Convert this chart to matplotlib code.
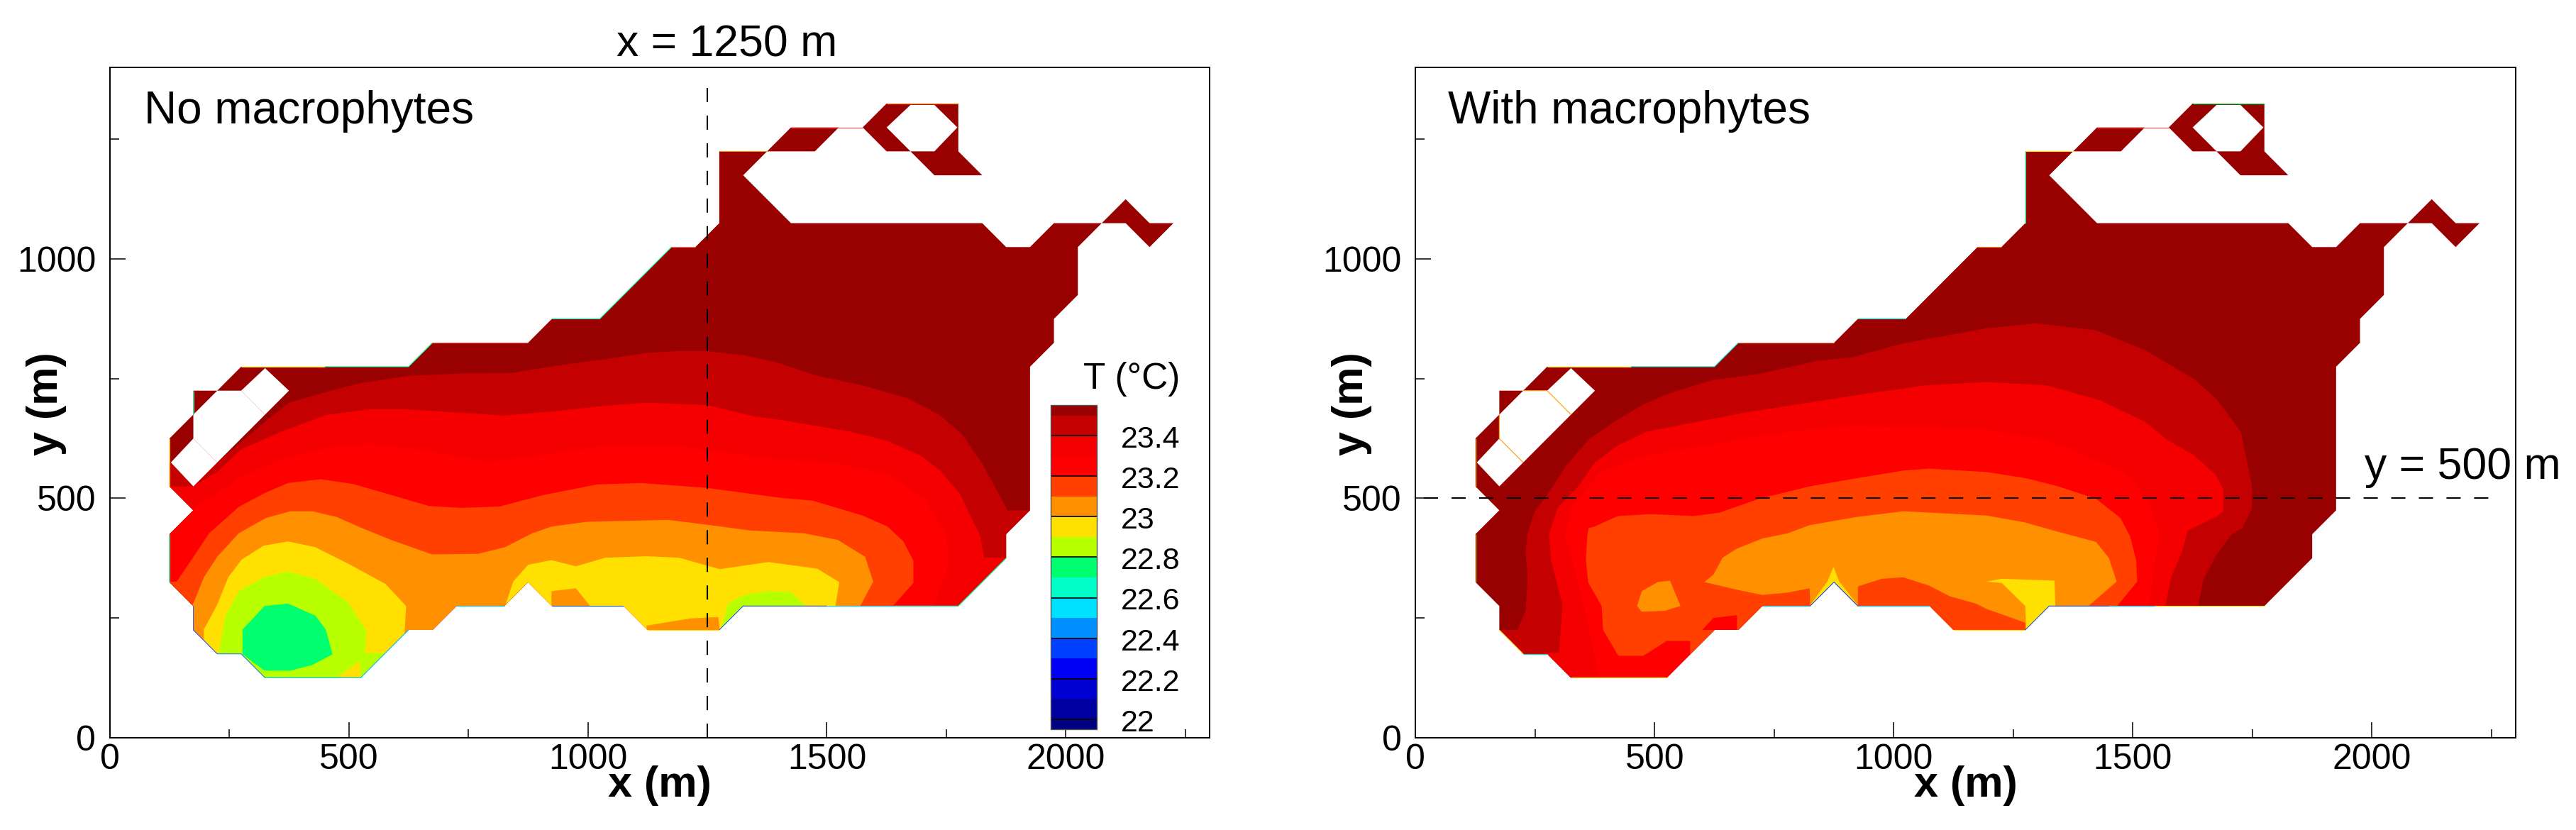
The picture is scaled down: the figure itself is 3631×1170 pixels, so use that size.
import matplotlib
matplotlib.use("Agg")
import matplotlib.pyplot as plt
from matplotlib.cm import ScalarMappable
from matplotlib.colors import BoundaryNorm, ListedColormap
from matplotlib.patches import Polygon

plt.rcParams["font.family"] = ["Liberation Sans", "DejaVu Sans"]

# temperature levels and the colour of each band, coolest first
levels = [21.95, 22.0, 22.1, 22.2, 22.3, 22.4, 22.5, 22.6, 22.7, 22.8, 22.9,
          23.0, 23.1, 23.2, 23.3, 23.4, 23.5, 23.55]
band_colors = ["#000080", "#0000a0", "#0000d0", "#0000f5", "#0040ff", "#0090ff",
               "#00e0ff", "#00ffc8", "#00ff70", "#b8ff00", "#ffe000", "#ff9000",
               "#ff4000", "#ff0000", "#f50000", "#c40000", "#990000"]
cbar_ticks = [22, 22.2, 22.4, 22.6, 22.8, 23, 23.2, 23.4]
cbar_labels = ["22", "22.2", "22.4", "22.6", "22.8", "23", "23.2", "23.4"]

C_235 = "#990000"
C_234 = "#c40000"
C_233 = "#f50000"
C_232 = "#ff0000"
C_231 = "#ff4000"
C_230 = "#ff9000"
C_229 = "#ffe000"
C_228 = "#b8ff00"
C_227 = "#00ff70"

domain = [
    (125, 325), (125, 425), (175, 475), (125, 525), (125, 625), (175, 675), (175, 725),
    (225, 725), (275, 775), (625, 775), (675, 825), (875, 825), (925, 875), (1025, 875),
    (1175, 1025), (1225, 1025), (1275, 1075), (1275, 1225), (1375, 1225), (1425, 1275),
    (1575, 1275), (1625, 1325), (1775, 1325), (1775, 1225), (1825, 1175), (1725, 1175),
    (1675, 1225), (1625, 1225), (1575, 1275), (1525, 1275), (1475, 1225), (1375, 1225),
    (1325, 1175), (1425, 1075), (1825, 1075), (1875, 1025), (1925, 1025), (1975, 1075),
    (2075, 1075), (2125, 1125), (2175, 1075), (2225, 1075), (2175, 1025), (2125, 1075),
    (2075, 1075), (2025, 1025), (2025, 925), (1975, 875), (1975, 825), (1925, 775),
    (1925, 475), (1875, 425), (1875, 375), (1775, 275), (1325, 275), (1275, 225),
    (1125, 225), (1075, 275), (925, 275), (875, 325), (825, 275), (725, 275), (675, 225),
    (625, 225), (525, 125), (325, 125), (275, 175), (225, 175), (175, 225), (175, 275),
]
holes = [
    [(175, 675), (225, 725), (275, 725), (325, 675), (225, 575), (175, 625)],
    [(175, 625), (128, 575), (175, 525), (225, 575)],
    [(275, 725), (325, 772), (375, 725), (325, 675)],
    [(1625, 1275), (1675, 1322), (1725, 1322), (1773, 1275), (1725, 1225), (1675, 1225)],
]

# no macrophytes: region cooler than each level
left_235 = [(100, 575), (225, 575), (325, 660), (375, 700), (452, 722), (520, 740), (625, 756),
            (739, 761), (839, 762), (941, 778), (1032, 790), (1123, 804), (1191, 808),
            (1248, 808), (1327, 799), (1395, 784), (1480, 756), (1575, 736), (1670, 709),
            (1736, 674), (1783, 634), (1826, 571), (1878, 475), (1950, 475), (1950, 100),
            (100, 100)]
left_234 = [(100, 525), (175, 525), (225, 555), (274, 602), (361, 640), (452, 674), (543, 686),
            (623, 686), (714, 680), (827, 673), (941, 683), (1032, 693), (1123, 700),
            (1248, 695), (1350, 671), (1404, 664), (1480, 651), (1546, 640), (1627, 620),
            (1698, 588), (1736, 559), (1778, 510), (1821, 421), (1829, 376), (1950, 376),
            (1950, 100), (100, 100)]
left_233 = [(100, 476), (170, 476), (270, 542), (361, 582), (452, 605), (543, 614), (657, 600),
            (793, 576), (907, 591), (1055, 611), (1191, 608), (1404, 581), (1537, 570),
            (1632, 547), (1707, 495), (1750, 421), (1755, 363), (1722, 275), (1722, 100),
            (100, 100)]
left_232 = [(100, 326), (140, 326), (168, 367), (208, 427), (270, 482), (322, 510), (373, 532),
            (441, 540), (509, 530), (589, 507), (668, 484), (736, 480), (816, 483), (907, 507),
            (1020, 529), (1111, 532), (1248, 522), (1404, 501), (1471, 495), (1575, 464),
            (1627, 441), (1660, 410), (1681, 370), (1681, 323), (1638, 275), (1638, 100),
            (100, 100)]
left_231 = [(170, 270), (176, 283), (197, 335), (225, 378), (270, 427), (327, 459), (378, 473),
            (424, 473), (475, 461), (520, 441), (589, 413), (674, 383), (770, 384), (827, 398),
            (884, 427), (924, 441), (998, 451), (1168, 455), (1248, 445), (1339, 433),
            (1452, 427), (1523, 413), (1580, 378), (1597, 326), (1570, 275), (1570, 100),
            (170, 100)]
left_230_a = [(197, 226), (225, 278), (248, 335), (276, 372), (322, 401), (373, 410), (430, 398),
              (498, 364), (577, 321), (620, 275), (617, 225), (617, 100), (197, 100)]
left_230_b = [(827, 275), (844, 326), (875, 361), (924, 371), (975, 358), (1037, 376),
              (1123, 379), (1191, 376), (1276, 352), (1378, 367), (1480, 353), (1526, 325),
              (1518, 275), (1518, 200), (827, 200)]
left_warm_a = [(924, 306), (975, 312), (1005, 275), (924, 275)]
left_warm_b = [(1123, 234), (1214, 249), (1273, 252), (1276, 225), (1123, 225)]
left_229_a = [(228, 177), (242, 255), (270, 306), (322, 335), (373, 347), (430, 332), (498, 283),
              (537, 223), (534, 177), (580, 177), (530, 110), (228, 110)]
left_229_b = [(1280, 230), (1293, 280), (1327, 298), (1373, 306), (1424, 305), (1457, 275),
              (1325, 270)]
left_wedge = [(475, 125), (523, 160), (525, 125)]
left_228 = [(278, 226), (324, 275), (373, 280), (430, 255), (452, 226), (466, 174), (424, 152),
            (378, 140), (324, 140), (278, 174)]

# with macrophytes
right_235 = [(170, 225), (213, 225), (230, 266), (234, 335), (230, 387), (234, 427), (249, 473),
             (275, 507), (317, 571), (362, 623), (415, 660), (476, 696), (529, 719), (620, 747),
             (718, 760), (839, 787), (914, 795), (1020, 824), (1193, 855), (1297, 866),
             (1423, 851), (1525, 810), (1627, 750), (1674, 709), (1726, 639), (1749, 525),
             (1749, 479), (1729, 438), (1706, 424), (1674, 381), (1647, 329), (1637, 275),
             (1637, 100), (170, 100)]
right_234 = [(270, 177), (300, 177), (307, 278), (283, 372), (279, 427), (298, 482), (340, 525),
             (374, 574), (423, 611), (483, 639), (574, 657), (688, 679), (854, 705), (945, 719),
             (1066, 736), (1194, 743), (1320, 736), (1431, 705), (1525, 660), (1572, 622),
             (1627, 591), (1674, 548), (1689, 519), (1689, 473), (1674, 461), (1615, 433),
             (1604, 392), (1580, 335), (1568, 275), (1568, 100), (270, 100)]
right_233 = [(381, 125), (377, 163), (351, 278), (332, 352), (313, 421), (324, 479), (385, 553),
             (476, 588), (612, 611), (763, 637), (914, 651), (1194, 643), (1320, 622),
             (1415, 582), (1486, 553), (1533, 490), (1555, 427), (1549, 387), (1533, 275),
             (1533, 100), (381, 100)]
right_232 = [(359, 421), (362, 438), (374, 441), (423, 463), (491, 467), (581, 463), (635, 470),
             (718, 499), (824, 525), (922, 542), (1020, 558), (1073, 562), (1194, 555),
             (1277, 542), (1344, 525), (1423, 499), (1474, 459), (1494, 421), (1507, 370),
             (1509, 326), (1467, 275), (1467, 180), (574, 174), (574, 202), (525, 202),
             (476, 171), (424, 171), (392, 225), (389, 275), (361, 324), (356, 372)]
right_hot = [(623, 250), (672, 256), (672, 225), (599, 225)]
right_231_a = [(604, 325), (623, 341), (642, 376), (672, 395), (725, 416), (778, 427), (824, 444),
               (922, 461), (1020, 473), (1194, 464), (1273, 450), (1344, 430), (1423, 409),
               (1450, 375), (1466, 326), (1407, 275), (1325, 275), (1275, 225), (1275, 240),
               (1194, 269), (1172, 280), (1118, 295), (1073, 318), (1020, 335), (975, 332),
               (925, 316), (925, 275), (875, 325), (825, 275), (824, 312), (778, 303),
               (725, 298), (672, 309)]
right_231_b = [(473, 306), (506, 325), (532, 328), (554, 275), (521, 265), (473, 263), (463, 275)]
right_230_a = [(1194, 326), (1226, 332), (1336, 328), (1338, 275), (1324, 275), (1277, 226),
               (1275, 275), (1226, 323)]
right_230_b = [(825, 277), (861, 326), (874, 357), (886, 326), (925, 277), (875, 325)]

left_bands = [
    (left_235, C_234), (left_234, C_233), (left_233, C_232), (left_232, C_231),
    (left_231, C_230), (left_230_a, C_229), (left_230_b, C_229), (left_warm_a, C_230),
    (left_warm_b, C_230), (left_229_a, C_228), (left_229_b, C_228), (left_wedge, C_229),
    (left_228, C_227),
]
right_bands = [
    (right_235, C_234), (right_234, C_233), (right_233, C_232), (right_232, C_231),
    (right_hot, C_232), (right_231_a, C_230), (right_231_b, C_230), (right_230_a, C_229),
    (right_230_b, C_229),
]

# thin coloured rims that the contouring leaves along the shoreline
left_rims = [
    ([275, 450], [775, 775], "#ffe000"), ([450, 625, 675], [775, 775, 825], "#00ff90"),
    ([675, 875], [825, 825], "#ff6060"), ([925, 1025, 1175], [875, 875, 1025], "#00ffa0"),
    ([1175, 1225], [1025, 1025], "#ff8060"), ([1275, 1375], [1225, 1225], "#ff9000"),
    ([1425, 1575], [1275, 1275], "#ff4040"), ([1625, 1775], [1325, 1325], "#ff9000"),
    ([175, 175], [675, 725], "#00ff90"), ([125, 125], [325, 425], "#00ff90"),
    ([125, 125], [525, 625], "#ffb000"), ([175, 175, 225], [275, 225, 175], "#4060ff"),
    ([225, 275, 325], [175, 175, 125], "#2080ff"), ([325, 525, 625], [125, 125, 225], "#00c0ff"),
    ([725, 825], [275, 275], "#00d0ff"), ([925, 1075], [275, 275], "#2060ff"),
    ([1125, 1275], [225, 225], "#ffe000"), ([1275, 1325, 1500], [225, 275, 275], "#2060ff"),
    ([1500, 1640], [275, 275], "#00d0ff"), ([1640, 1775, 1875], [275, 275, 375], "#00ffa0"),
]
right_rims = [
    ([275, 450], [775, 775], "#ffe000"), ([450, 625, 675], [775, 775, 825], "#00e0c0"),
    ([675, 875], [825, 825], "#ff9070"), ([925, 1025], [875, 875], "#00e0c0"),
    ([1175, 1225], [1025, 1025], "#ff9000"), ([1275, 1275], [1075, 1225], "#00ff90"),
    ([1275, 1375], [1225, 1225], "#ffe000"), ([1425, 1575], [1275, 1275], "#ff4040"),
    ([1625, 1775], [1325, 1325], "#00ff70"), ([125, 125], [325, 425], "#c0e000"),
    ([125, 125], [525, 625], "#ffd000"), ([225, 275, 325], [725, 725, 675], "#ffa000"),
    ([175, 175, 225], [675, 625, 575], "#ffa000"), ([175, 225], [225, 175], "#ffe000"),
    ([225, 275], [175, 175], "#00e0c0"), ([325, 525], [125, 125], "#ffe000"),
    ([725, 825], [275, 275], "#00d0ff"), ([825, 875, 925], [275, 325, 275], "#2060ff"),
    ([925, 1075], [275, 275], "#00d0ff"), ([1125, 1275], [225, 225], "#ffe000"),
    ([1275, 1325, 1450], [225, 275, 275], "#2060ff"), ([1450, 1545], [275, 275], "#00d0ff"),
    ([1545, 1775], [275, 275], "#ffd000"),
]

W, H = 3631, 1170
fig = plt.figure(figsize=(W / 100, H / 100), dpi=100, facecolor="white")


def add_axes_px(x0, y_top, x1, y_bottom):
    return fig.add_axes([x0 / W, 1 - y_bottom / H, (x1 - x0) / W, (y_bottom - y_top) / H])


def draw_panel(ax, bands, rims):
    lake = Polygon(domain, closed=True, fc=C_235, ec="none", zorder=1)
    ax.add_patch(lake)
    for poly, color in bands:
        xs, ys = zip(*poly)
        for artist in ax.fill(xs, ys, color=color, lw=0, zorder=2):
            artist.set_clip_path(lake)
    for hole in holes:
        xs, ys = zip(*hole)
        ax.fill(xs, ys, color="white", lw=0, zorder=3)
    for xs, ys, color in rims:
        ax.plot(xs, ys, color=color, lw=0.8, zorder=4, solid_capstyle="butt")
    ax.set_xlim(0, 2300)
    ax.set_ylim(0, 1400)
    ax.set_xticks([0, 500, 1000, 1500, 2000])
    ax.set_xticks([250, 750, 1250, 1750, 2250], minor=True)
    ax.set_yticks([0, 500, 1000])
    ax.set_yticks([250, 750, 1250], minor=True)
    ax.tick_params(which="major", direction="in", length=16, width=1.1, labelsize=36)
    ax.tick_params(which="minor", direction="in", length=9, width=1.1)
    ax.tick_params(axis="x", which="major", pad=6)
    ax.tick_params(axis="y", which="major", pad=14)
    for spine in ax.spines.values():
        spine.set_linewidth(1.4)


ax1 = add_axes_px(154.6, 95.3, 1704.6, 1039.8)
ax2 = add_axes_px(1995.4, 95.3, 3545.6, 1039.8)
draw_panel(ax1, left_bands, left_rims)
draw_panel(ax2, right_bands, right_rims)

dash = (0, (9.6, 9.1))
ax1.plot([1250, 1250], [0, 1380], color="black", lw=1.5, ls=dash, zorder=5)
ax2.plot([17, 2263], [500, 500], color="black", lw=1.5, ls=dash, zorder=5)

ax1.text(72, 1284, "No macrophytes", fontsize=46, va="baseline", zorder=6)
ax2.text(67, 1284, "With macrophytes", fontsize=46, va="baseline", zorder=6)
ax1.text(1060, 1423, "x = 1250 m", fontsize=45, va="baseline", clip_on=False)
ax2.text(1985, 540, "y = 500 m", fontsize=45, va="baseline", clip_on=False, zorder=6)

for cx in (929.6, 2770.5):
    fig.text(cx / W, 1 - 1107 / H, "x (m)", fontsize=44, fontweight="bold", ha="center", va="center")
for cx in (65, 1905):
    fig.text(cx / W, 1 - 569 / H, "y (m)", fontsize=44, fontweight="bold", rotation=90,
             ha="center", va="center")

# colour bar
cax = add_axes_px(1480.7, 571.4, 1545.8, 1028)
cmap = ListedColormap(band_colors)
norm = BoundaryNorm(levels, cmap.N)
cbar = fig.colorbar(ScalarMappable(norm=norm, cmap=cmap), cax=cax, spacing="proportional",
                    ticks=cbar_ticks)
cbar.outline.set_edgecolor("#555555")
cbar.outline.set_linewidth(1.0)
cax.tick_params(direction="in", length=47, width=1.2, color="black", labelright=False)
cax.minorticks_off()
for tick, label in zip(cbar_ticks, cbar_labels):
    cax.text(1.52, tick - 0.021, label, fontsize=31, va="center", ha="left",
             transform=cax.get_yaxis_transform())
fig.text(1527 / W, 1 - 548 / H, "T (°C)", fontsize=37, va="baseline")

fig.savefig("out.png", dpi=100)
